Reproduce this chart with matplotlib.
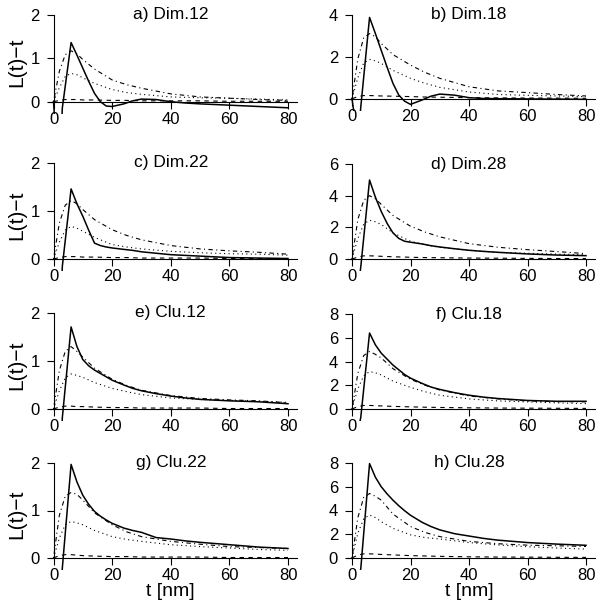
import matplotlib
matplotlib.use('Agg')
import matplotlib.pyplot as plt

plt.rcParams['font.family'] = ['Liberation Sans', 'DejaVu Sans']

# t grids (nm)
T_SOLID = [0, 1, 2, 3, 6, 8, 10, 12, 14, 16, 18, 20, 24, 27, 30, 35, 40, 45, 50, 60, 70, 80]
T_CURVE = [0, 2, 4, 6, 8, 10, 14, 20, 25, 30, 40, 50, 60, 70, 80]

titles = ['a) Dim.12', 'b) Dim.18', 'c) Dim.22', 'd) Dim.28',
          'e) Clu.12', 'f) Clu.18', 'g) Clu.22', 'h) Clu.28']
y_max = [2, 4, 2, 6, 2, 8, 2, 8]

# observed L(t)-t (solid)
solid_a = [0, -1, -2, -0.15, 1.36, 1.07, 0.77, 0.47, 0.19, 0.0, -0.1, -0.11, -0.05, 0.02, 0.06, 0.05, 0.0, -0.03, -0.05, -0.08, -0.11, -0.14]
solid_b = [0, -1, -2, -0.4, 3.87, 3.1, 2.3, 1.5, 0.73, 0.17, -0.12, -0.27, -0.06, 0.12, 0.22, 0.17, 0.05, 0.01, 0.0, -0.01, -0.02, -0.03]
solid_c = [-1, -1, -2, -0.16, 1.46, 1.15, 0.89, 0.6, 0.33, 0.28, 0.25, 0.23, 0.2, 0.18, 0.15, 0.12, 0.09, 0.075, 0.06, 0.03, 0.02, 0.01]
solid_d = [-2, -1, -2, -0.5, 4.99, 3.9, 3.0, 2.25, 1.65, 1.3, 1.12, 1.06, 0.95, 0.84, 0.76, 0.65, 0.55, 0.48, 0.42, 0.32, 0.25, 0.21]
solid_e = [-1, -1, -2, -0.19, 1.71, 1.3, 1.03, 0.9, 0.81, 0.74, 0.67, 0.6, 0.5, 0.43, 0.38, 0.32, 0.27, 0.23, 0.2, 0.17, 0.15, 0.11]
solid_f = [-2, -1, -2, -0.7, 6.4, 5.4, 4.7, 4.2, 3.7, 3.3, 2.9, 2.6, 2.15, 1.85, 1.65, 1.38, 1.16, 1.0, 0.88, 0.72, 0.65, 0.65]
solid_g = [-1, -1, -2, -0.22, 1.97, 1.6, 1.32, 1.13, 0.98, 0.88, 0.8, 0.73, 0.63, 0.58, 0.54, 0.43, 0.4, 0.36, 0.33, 0.28, 0.23, 0.2]
solid_h = [-2, -1, -2, -0.9, 7.95, 6.8, 6.0, 5.4, 4.87, 4.4, 3.98, 3.6, 3.0, 2.65, 2.37, 2.05, 1.85, 1.65, 1.5, 1.3, 1.17, 1.07]

# dash-dot curves
dashdot_a = [0, 0.7, 1.08, 1.17, 1.1, 0.97, 0.75, 0.5, 0.39, 0.31, 0.18, 0.11, 0.08, 0.05, 0.03]
dashdot_b = [0, 1.9, 2.9, 3.1, 2.95, 2.63, 2.1, 1.6, 1.25, 0.97, 0.57, 0.37, 0.29, 0.2, 0.13]
dashdot_c = [0, 0.75, 1.12, 1.22, 1.15, 1.03, 0.82, 0.61, 0.49, 0.4, 0.28, 0.21, 0.17, 0.14, 0.1]
dashdot_d = [0, 2.5, 3.7, 4.0, 3.8, 3.45, 2.75, 2.07, 1.7, 1.4, 0.97, 0.74, 0.59, 0.47, 0.34]
dashdot_e = [0, 0.8, 1.2, 1.3, 1.2, 1.08, 0.85, 0.62, 0.49, 0.39, 0.28, 0.22, 0.19, 0.17, 0.13]
dashdot_f = [0, 3.0, 4.5, 4.85, 4.6, 4.3, 3.4, 2.5, 2.0, 1.6, 1.1, 0.85, 0.68, 0.62, 0.6]
dashdot_g = [0, 0.9, 1.3, 1.38, 1.34, 1.22, 0.95, 0.7, 0.55, 0.45, 0.35, 0.29, 0.24, 0.22, 0.2]
dashdot_h = [0, 3.4, 5.1, 5.43, 5.2, 4.87, 3.7, 2.65, 2.15, 1.8, 1.4, 1.2, 1.08, 1.03, 0.97]

# dotted curves
dotted_a = [0, 0.32, 0.58, 0.65, 0.62, 0.55, 0.42, 0.28, 0.21, 0.17, 0.11, 0.09, 0.08, 0.06, 0.04]
dotted_b = [0, 1.0, 1.7, 1.87, 1.8, 1.68, 1.35, 0.97, 0.73, 0.54, 0.32, 0.2, 0.16, 0.13, 0.1]
dotted_c = [0, 0.35, 0.6, 0.68, 0.64, 0.58, 0.45, 0.3, 0.25, 0.21, 0.16, 0.13, 0.11, 0.1, 0.08]
dotted_d = [0, 1.3, 2.2, 2.45, 2.35, 2.18, 1.65, 1.12, 0.9, 0.74, 0.55, 0.42, 0.36, 0.31, 0.27]
dotted_e = [0, 0.38, 0.65, 0.73, 0.7, 0.66, 0.55, 0.43, 0.36, 0.3, 0.23, 0.2, 0.18, 0.16, 0.14]
dotted_f = [0, 1.7, 2.8, 3.15, 3.05, 2.87, 2.35, 1.82, 1.45, 1.16, 0.85, 0.68, 0.6, 0.52, 0.45]
dotted_g = [0, 0.42, 0.7, 0.77, 0.74, 0.7, 0.58, 0.45, 0.39, 0.35, 0.28, 0.24, 0.21, 0.18, 0.16]
dotted_h = [0, 2.1, 3.3, 3.62, 3.4, 3.06, 2.5, 1.95, 1.72, 1.6, 1.3, 1.1, 0.95, 0.84, 0.75]

# dashed curves
dashed_a = [0, 0.03, 0.05, 0.05, 0.05, 0.04, 0.04, 0.03, 0.03, 0.02, 0.02, 0.02, 0.01, 0.01, 0.01]
dashed_b = [0, 0.1, 0.15, 0.15, 0.14, 0.13, 0.12, 0.1, 0.08, 0.07, 0.05, 0.04, 0.03, 0.03, 0.02]
dashed_c = [0, 0.03, 0.05, 0.05, 0.05, 0.04, 0.04, 0.03, 0.03, 0.02, 0.02, 0.02, 0.01, 0.01, 0.01]
dashed_d = [0, 0.12, 0.2, 0.2, 0.19, 0.17, 0.14, 0.11, 0.09, 0.08, 0.06, 0.05, 0.04, 0.03, 0.03]
dashed_e = [0, 0.04, 0.06, 0.06, 0.05, 0.05, 0.04, 0.03, 0.03, 0.02, 0.02, 0.02, 0.01, 0.01, 0.01]
dashed_f = [0, 0.2, 0.3, 0.3, 0.28, 0.26, 0.22, 0.18, 0.15, 0.13, 0.1, 0.08, 0.07, 0.06, 0.05]
dashed_g = [0, 0.05, 0.07, 0.07, 0.06, 0.05, 0.04, 0.03, 0.03, 0.02, 0.02, 0.02, 0.01, 0.01, 0.01]
dashed_h = [0, 0.25, 0.35, 0.35, 0.33, 0.3, 0.26, 0.2, 0.17, 0.14, 0.1, 0.08, 0.07, 0.06, 0.05]

solids = [solid_a, solid_b, solid_c, solid_d, solid_e, solid_f, solid_g, solid_h]
dashdots = [dashdot_a, dashdot_b, dashdot_c, dashdot_d, dashdot_e, dashdot_f, dashdot_g, dashdot_h]
dotteds = [dotted_a, dotted_b, dotted_c, dotted_d, dotted_e, dotted_f, dotted_g, dotted_h]
dasheds = [dashed_a, dashed_b, dashed_c, dashed_d, dashed_e, dashed_f, dashed_g, dashed_h]

# layout in pixels (figure is 605 x 612)
W, H = 605, 612
col_x0 = [53.5, 352]
col_x80 = [288, 586]
zero_px = [101.7, 98.7, 259, 259, 409, 409, 558, 558]
top_px = [14.7, 14.7, 163, 164, 313, 314, 463, 463]
XL, XR = -1.2, 83.0

fig = plt.figure(figsize=(W / 100, H / 100), dpi=100)

for i in range(8):
    col = i % 2
    ppx = (col_x80[col] - col_x0[col]) / 80.0
    ppy = (zero_px[i] - top_px[i]) / y_max[i]
    left = col_x0[col] + XL * ppx
    width = (XR - XL) * ppx
    bot = zero_px[i] + 12
    top = top_px[i] - 3
    ax = fig.add_axes([left / W, 1 - bot / H, width / W, (bot - top) / H])
    ax.set_xlim(XL, XR)
    ax.set_ylim(-12 / ppy, y_max[i] + 3 / ppy)

    ax.plot(T_SOLID, solids[i], color='black', lw=1.1, ls='-')
    ax.plot(T_CURVE, dashdots[i], color='black', lw=0.8, ls=(0, (1, 3, 4, 3)))
    ax.plot(T_CURVE, dotteds[i], color='black', lw=0.8, ls=(0, (1, 3)))
    ax.plot(T_CURVE, dasheds[i], color='black', lw=0.8, ls=(0, (4, 4)))

    for s in ['top', 'right']:
        ax.spines[s].set_visible(False)
    ax.spines['left'].set_position(('data', 0))
    ax.spines['left'].set_bounds(0, y_max[i])
    ax.spines['bottom'].set_position(('data', 0))
    ax.spines['left'].set_linewidth(0.8)
    ax.spines['bottom'].set_linewidth(0.8)
    ax.set_xticks([0, 20, 40, 60, 80])
    step = 1 if y_max[i] == 2 else 2
    ax.set_yticks(list(range(0, y_max[i] + 1, step)))
    ax.tick_params(axis='x', direction='out', length=5, width=0.8, pad=2.5, labelsize=12)
    ax.tick_params(axis='y', direction='out', length=5, width=0.8, pad=5, labelsize=12)
    ax.patch.set_visible(False)

    ax.text(40, y_max[i], titles[i], ha='center', va='center', fontsize=12.5)

    if col == 0:
        fig.text(17 / W, 1 - ((zero_px[i] + top_px[i]) / 2 + 4) / H, 'L(t)\u2212t',
                 rotation=90, ha='center', va='center', fontsize=15)
    if i >= 6:
        fig.text((col_x0[col] + 40 * ppx) / W, 1 - 592 / H, 't [nm]',
                 ha='center', va='center', fontsize=14)

fig.savefig('out.png', dpi=100)
